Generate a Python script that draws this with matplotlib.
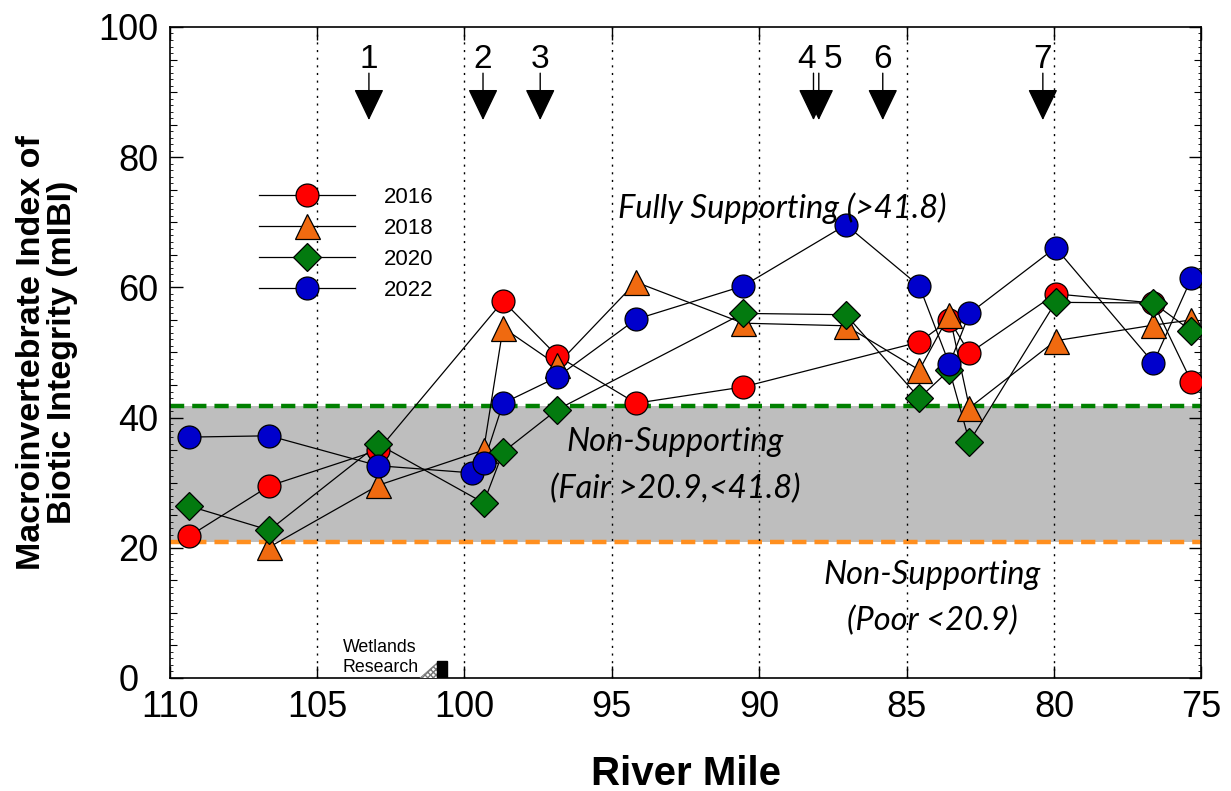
import matplotlib
matplotlib.use("Agg")
import matplotlib.pyplot as plt
from matplotlib.patches import Polygon, Rectangle
from matplotlib.lines import Line2D
from matplotlib.transforms import ScaledTranslation

# ---- data -------------------------------------------------------------
miles_2016 = [109.33, 106.62, 102.92, 98.69, 96.86, 94.18, 90.55, 84.57, 83.55, 82.87, 79.95, 76.63, 75.34]
mibi_2016 = [21.8, 29.5, 35.0, 57.9, 49.5, 42.2, 44.7, 51.6, 55.0, 49.9, 59.0, 57.6, 45.5]

miles_2018 = [106.62, 102.92, 99.35, 98.69, 96.86, 94.18, 90.55, 87.06, 84.57, 83.55, 82.87, 79.95, 76.63, 75.34]
mibi_2018 = [20.1, 29.6, 35.0, 53.8, 48.1, 60.8, 54.5, 54.1, 47.3, 55.8, 41.5, 51.8, 54.2, 55.0]

miles_2020 = [109.33, 106.62, 102.92, 99.35, 98.69, 96.86, 90.55, 87.06, 84.57, 83.55, 82.87, 79.95, 76.63, 75.34]
mibi_2020 = [26.4, 22.7, 35.9, 26.9, 34.7, 41.2, 56.0, 55.8, 43.0, 47.3, 36.3, 57.7, 57.6, 53.3]

miles_2022 = [109.33, 106.62, 102.92, 99.73, 99.35, 98.69, 96.86, 94.18, 90.55, 87.06, 84.57, 83.55, 82.87, 79.95, 76.63, 75.34]
mibi_2022 = [37.0, 37.2, 32.6, 31.5, 33.0, 42.2, 46.2, 55.1, 60.2, 69.6, 60.2, 48.2, 56.0, 66.1, 48.4, 61.4]

# numbered arrows along the top (river mile of each site)
arrow_labels = ["1", "2", "3", "4", "5", "6", "7"]
arrow_miles = [103.24, 99.37, 97.43, 88.16, 87.98, 85.81, 80.38]
arrow_label_shift = [0, 0, 0, -5, 10, 0, 0]   # points, sideways nudge of the number

fully_threshold = 41.8
fair_threshold = 20.9
wetlands_mile = 100.93

x_ticks = [110, 105, 100, 95, 90, 85, 80, 75]
x_tick_labels = ["110", "105", "100", "95", "90", "85", "80", "75"]
y_ticks = [0, 20, 40, 60, 80, 100]
y_tick_labels = ["0", "20", "40", "60", "80", "100"]

# ---- style ------------------------------------------------------------
plt.rcParams["font.family"] = ["Liberation Sans", "DejaVu Sans"]
ITALIC = ["Lato", "DejaVu Sans"]

fig = plt.figure(figsize=(12.31, 7.91), dpi=100)
ax = fig.add_axes([0.1378, 0.1429, 0.8382, 0.8230])

ax.set_xlim(110, 75)
ax.set_ylim(0, 100)

# condition band and thresholds
ax.axhspan(fair_threshold, fully_threshold, color="#BEBEBE", zorder=0, lw=0)
ax.axhline(fully_threshold, color="#008000", lw=3.2, dashes=(3.2, 1.8), zorder=1)
ax.axhline(fair_threshold, color="#FF8F1F", lw=3.2, dashes=(3.2, 1.8), zorder=1)

# dotted vertical grid at major ticks
for xv in x_ticks[1:-1]:
    ax.axvline(xv, color="black", lw=1.0, ls=(0, (1.5, 4)), zorder=1)

series = [
    ("2016", miles_2016, mibi_2016, "o", "#FF0000", 16.5),
    ("2018", miles_2018, mibi_2018, "^", "#F06A10", 18),
    ("2020", miles_2020, mibi_2020, "D", "#037A0F", 14),
    ("2022", miles_2022, mibi_2022, "o", "#0000CC", 16.5),
]
handles = []
for lab, xs, ys, mk, col, ms in series:
    ax.plot(xs, ys, color="black", lw=0.9, zorder=3)
    ax.plot(xs, ys, ls="none", marker=mk, ms=ms, mfc=col, mec="black", mew=0.9, zorder=4)
    handles.append(Line2D([], [], color="black", lw=0.9, marker=mk, ms=ms,
                          mfc=col, mec="black", mew=0.9, label=lab))

leg = ax.legend(handles=handles, loc="upper left", bbox_to_anchor=(0.087, 0.754),
                frameon=False, fontsize=16, handlelength=4.3, handletextpad=1.3,
                labelspacing=0.45, borderpad=0, borderaxespad=0)
leg.set_zorder(5)

# numbered arrows
for lab, xm, dx in zip(arrow_labels, arrow_miles, arrow_label_shift):
    ax.annotate("", xy=(xm, 85.7), xytext=(xm, 92.9),
                arrowprops=dict(arrowstyle="-|>,head_length=1.0,head_width=0.48",
                                mutation_scale=20, color="black", lw=1.0,
                                shrinkA=0, shrinkB=0), zorder=5)
    ax.annotate(lab, xy=(xm, 95.0), xytext=(dx, 0), textcoords="offset points",
                ha="center", va="center", fontsize=24, zorder=5)

# condition labels
ax.text(89.23, 72.2, "Fully Supporting (>41.8)", family=ITALIC, style="italic",
        fontsize=23.5, ha="center", va="center", zorder=5)
ax.text(92.86, 32.6, "Non-Supporting\n(Fair >20.9,<41.8)", family=ITALIC, style="italic",
        fontsize=23.5, ha="center", va="center", linespacing=1.66, zorder=5)
ax.text(84.14, 12.3, "Non-Supporting\n(Poor <20.9)", family=ITALIC, style="italic",
        fontsize=23.5, ha="center", va="center", linespacing=1.66, zorder=5)

# wetlands research marker near the x axis
ax.text(wetlands_mile + 3.19, 0.35, "Wetlands\nResearch", fontsize=12.8, ha="left",
        va="bottom", linespacing=1.2, zorder=5)
ax.add_patch(Polygon([(wetlands_mile + 0.61, 0.0), (wetlands_mile, 0.0), (wetlands_mile, 2.5)],
                     closed=True, fc="white", ec="#777777", hatch="xxxxxx", lw=0.6, zorder=5))
ax.add_patch(Rectangle((wetlands_mile, 0.0), -0.34, 2.6, fc="black", ec="black", zorder=5))

# axes, ticks, labels
ax.set_xticks(x_ticks, x_tick_labels)
ax.set_yticks(y_ticks, y_tick_labels)
ax.set_yticks(range(0, 101, 5), minor=True)
ax.tick_params(axis="both", which="major", direction="in", top=True, right=True,
               length=9, width=1.0, labelsize=26, pad=8)
ax.tick_params(axis="y", which="minor", direction="in", right=True, length=5, width=0.8)
ax.tick_params(axis="x", which="major", pad=9)

for side in ("left", "right"):
    sec = ax.secondary_yaxis(side)
    sec.set_yticks(range(0, 101, 1))
    sec.tick_params(direction="in", length=2.5, width=0.6, labelleft=False, labelright=False)
    sec.spines[side].set_visible(False)

for sp in ax.spines.values():
    sp.set_linewidth(1.2)

ax.set_xlabel("River Mile", fontsize=29, fontweight="bold")
ax.xaxis.set_label_coords(0.5, -0.119)
ax.set_ylabel("Macroinvertebrate Index of\nBiotic Integrity (mIBI)", fontsize=24.5,
              fontweight="bold", linespacing=1.0)
ax.yaxis.set_label_coords(-0.089, 0.5)

# nudge the "0" label left so it clears the "110" label beneath it
zero_label = ax.yaxis.get_major_ticks()[0].label1
zero_label.set_transform(zero_label.get_transform() +
                         ScaledTranslation(-0.2, 0, fig.dpi_scale_trans))

fig.savefig("out.png", dpi=100)
